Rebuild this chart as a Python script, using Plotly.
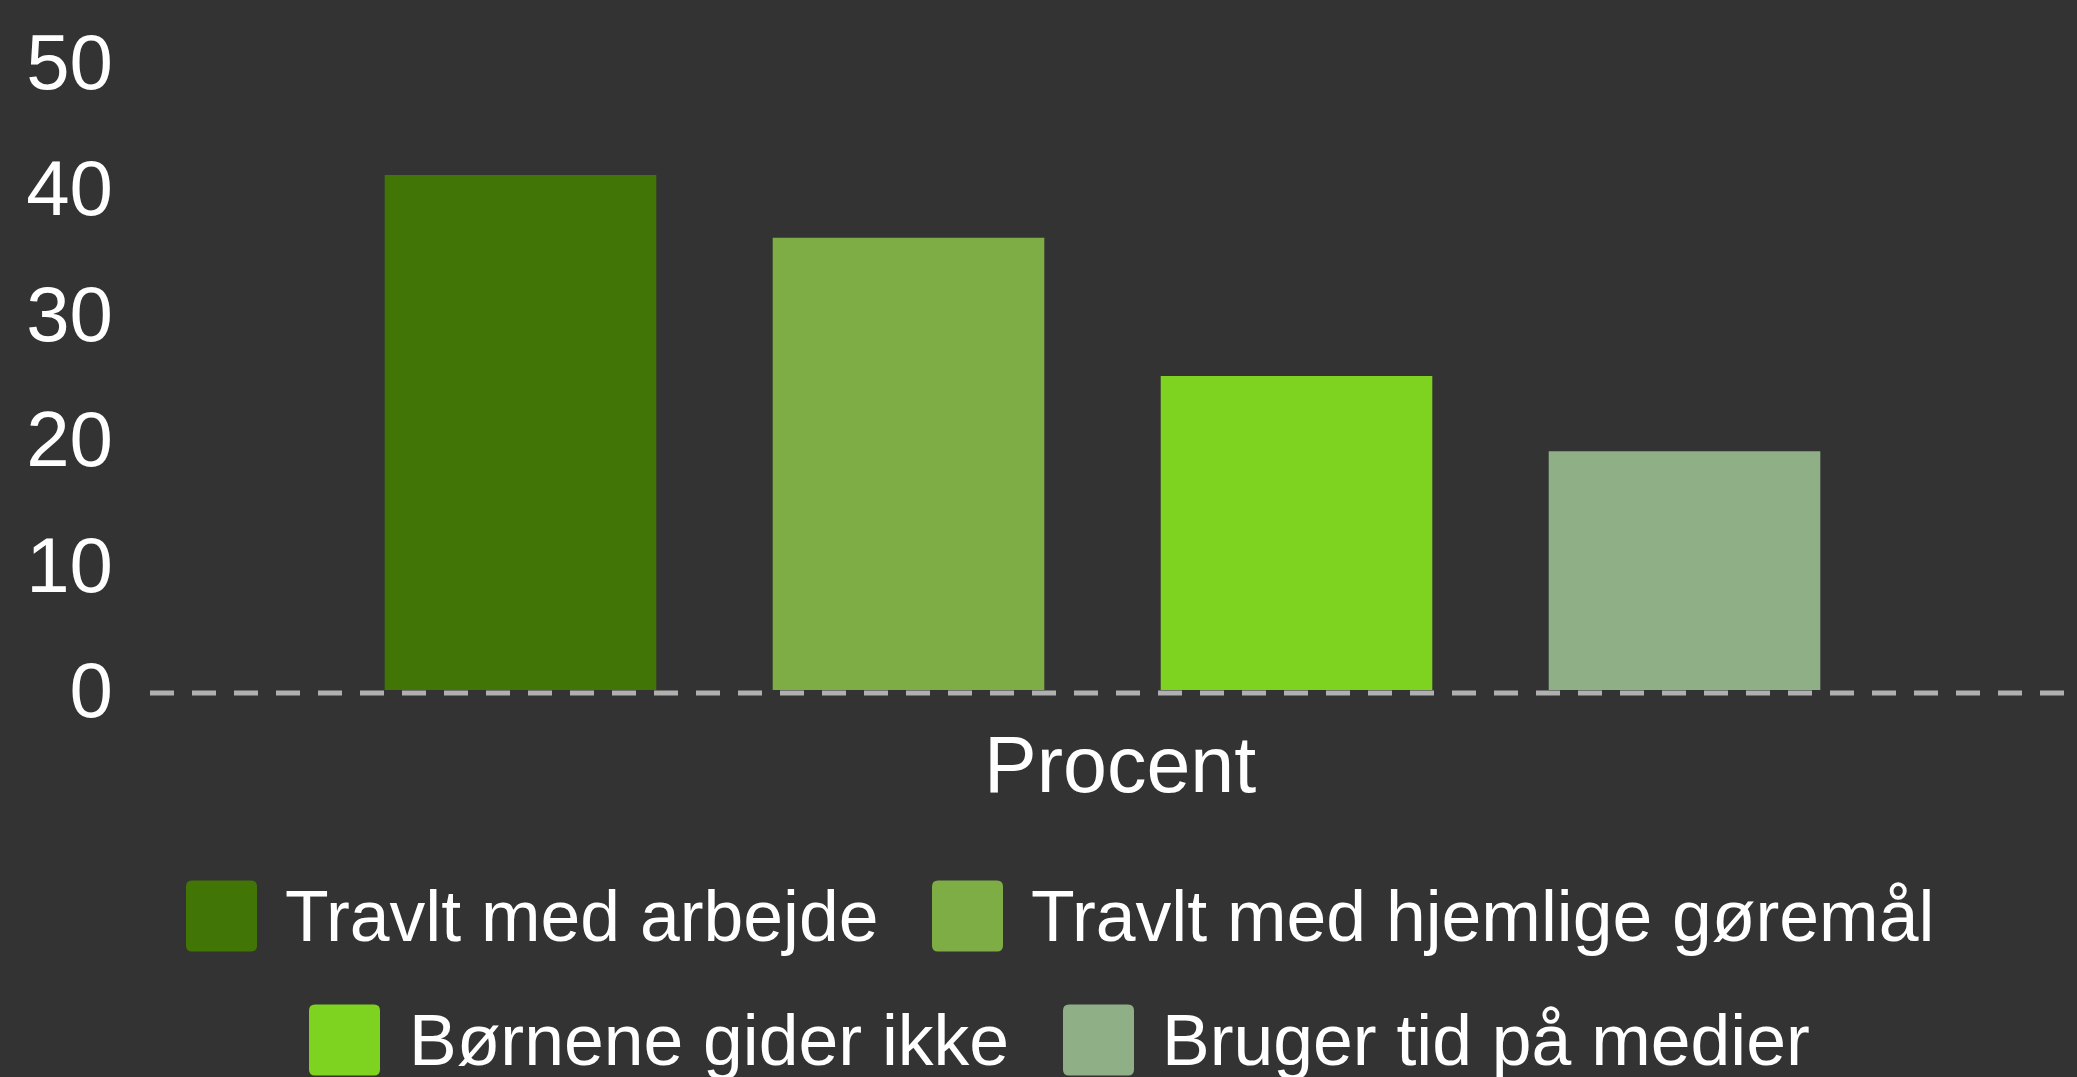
import plotly.graph_objects as go

# ---- data ----
category = ["Procent"]
axis_label = "Procent"
series_names = [
    "Travlt med arbejde",
    "Travlt med hjemlige gøremål",
    "Børnene gider ikke",
    "Bruger tid på medier",
]
series_values = [41, 36, 25, 19]
series_colors = ["#417505", "#7ead46", "#7ed321", "#8fb087"]
y_ticks = [0, 10, 20, 30, 40, 50]

# ---- geometry (pixels) ----
W, H = 2077, 1077
ML, MR, MT, MB = 150, 0, 62, 387
PW = W - ML - MR
PH = H - MT - MB
FONT = "Liberation Sans, Arial, sans-serif"
BG = "#333333"


def px_x(p):
    return (p - ML) / PW


def px_y(p):
    return (H - MB - p) / PH


fig = go.Figure()
for name, val, col in zip(series_names, series_values, series_colors):
    fig.add_trace(go.Bar(x=category, y=[val], name=name,
                         marker=dict(color=col, line=dict(width=0)),
                         showlegend=False))

shapes = [
    dict(type="line", xref="paper", yref="paper", x0=0, x1=1.01,
         y0=px_y(693), y1=px_y(693),
         line=dict(color="#b0b0b0", width=5, dash="24px,18px"), layer="below"),
]
annotations = [
    dict(xref="paper", yref="paper", x=px_x(1120), y=px_y(764),
         xanchor="center", yanchor="middle", showarrow=False, text=axis_label,
         font=dict(family=FONT, size=79, color="#ffffff")),
]

# manual legend (two centred rows)
legend_rows = [
    [(0, 186, 283), (1, 932, 1029)],
    [(2, 309, 407), (3, 1063, 1160)],
]
row_centers = [916, 1040]
half = 35.5
r = 6
rect_path = (
    f"M {-half + r},{-half} L {half - r},{-half} Q {half},{-half} {half},{-half + r} "
    f"L {half},{half - r} Q {half},{half} {half - r},{half} "
    f"L {-half + r},{half} Q {-half},{half} {-half},{half - r} "
    f"L {-half},{-half + r} Q {-half},{-half} {-half + r},{-half} Z"
)
for row, cy in zip(legend_rows, row_centers):
    for idx, sx, tx in row:
        shapes.append(dict(type="path", xref="paper", yref="paper",
                           xsizemode="pixel", ysizemode="pixel",
                           xanchor=px_x(sx + half), yanchor=px_y(cy),
                           path=rect_path, fillcolor=series_colors[idx],
                           line=dict(width=0)))
        annotations.append(dict(xref="paper", yref="paper", x=px_x(tx), y=px_y(cy),
                                xanchor="left", yanchor="middle", showarrow=False,
                                text=series_names[idx],
                                font=dict(family=FONT, size=71.5, color="#ffffff")))

fig.update_layout(
    width=W, height=H,
    margin=dict(l=ML, r=MR, t=MT, b=MB, autoexpand=False),
    paper_bgcolor=BG, plot_bgcolor=BG,
    barmode="group", bargap=0.1946, bargroupgap=0.3,
    font=dict(family=FONT, color="#ffffff"),
    shapes=shapes, annotations=annotations,
    showlegend=False,
    xaxis=dict(range=[-0.4943, 0.5057], showgrid=False, zeroline=False, showline=False,
               showticklabels=False, ticks="", automargin=False),
    yaxis=dict(range=[0, 50], tickvals=y_ticks, showgrid=False, zeroline=False, showline=False,
               tickfont=dict(size=78, color="#ffffff"), ticks="", ticklabelstandoff=36,
               automargin=False),
)

fig.write_html(
    "out.html",
    config={"displayModeBar": False},
    post_script="document.body.style.margin='0';document.body.style.overflow='hidden';"
                "document.body.style.background='#333333';",
)
